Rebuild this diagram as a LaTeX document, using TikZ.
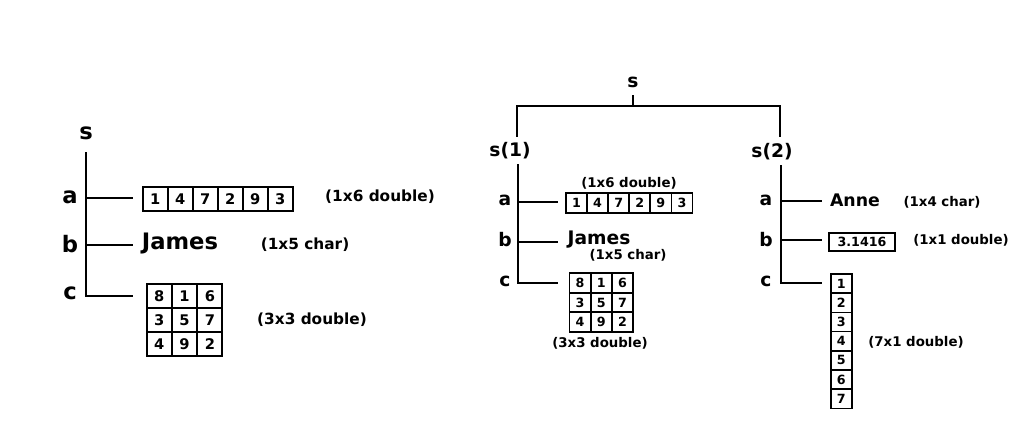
\documentclass[tikz,border=0pt]{standalone}
\usepackage{fontspec}
\setmainfont{DejaVu Sans}
\usepackage{tikz}
\usetikzlibrary{positioning, calc}

\begin{document}
\begin{tikzpicture}[x=0.75pt, y=-0.75pt,
  tree/.style={line width=1.5pt},
  big/.style={font=\fontsize{17}{17}\selectfont\bfseries},
  mid/.style={font=\fontsize{14}{14}\selectfont\bfseries},
  note/.style={font=\fontsize{11.5}{11.5}\selectfont\bfseries},
  snote/.style={font=\fontsize{10}{10}\selectfont\bfseries},
  cellL/.style={draw, line width=1.4pt, minimum width=25*0.75pt, minimum height=24*0.75pt, inner sep=0pt, font=\fontsize{11}{11}\selectfont\bfseries},
  cellM/.style={draw, line width=1.3pt, minimum width=21*0.75pt, minimum height=19.5*0.75pt, inner sep=0pt, font=\fontsize{9.5}{9.5}\selectfont\bfseries}]
  \useasboundingbox (0,0) rectangle (1022,436);

  % Left: s with fields a, b, c
  \node[big] (s0) at (86,133) {s};
  \node[big] (la0) at (70,197) {a};
  \node[big] (lb0) at (70,244) {b};
  \node[big] (lc0) at (70,293) {c};
  \coordinate (s0t) at (86,152);
  \coordinate (a0) at (133,198);
  \coordinate (b0) at (133,245);
  \coordinate (c0) at (133,296);
  \draw[tree] (s0t) |- (a0);
  \draw[tree] (s0t) |- (b0);
  \draw[tree] (s0t) |- (c0);

  \foreach \v [count=\k from 0] in {1,4,7,2,9,3}
    \node[cellL] (r0-\k) at (155.2+25*\k,199) {\v};
  \node[note] (na0) at (380,197) {(1x6 double)};
  \node[big] (james0) at (180,244) {James};
  \node[note] (nb0) at (305,245) {(1x5 char)};
  \foreach \row [count=\i from 0] in {{8,1,6},{3,5,7},{4,9,2}}
    \foreach \v [count=\j from 0] in \row
      \node[cellL] (g0-\i-\j) at (159.3+25.3*\j,296+24*\i) {\v};
  \node[note] (nc0) at (312,320) {(3x3 double)};

  % Right: struct array s(1), s(2)
  \node[mid] (s) at (633,82) {s};
  \node[mid] (s1) at (510,151) {s(1)};
  \node[mid] (s2) at (772,152) {s(2)};
  \coordinate (st) at (633,95);
  \coordinate (bar) at (633,106);
  \coordinate (s1t) at (517,137);
  \coordinate (s2t) at (780,137);
  \draw[tree] (st) -- (bar) -| (s1t);
  \draw[tree] (bar) -| (s2t);

  % s(1)
  \node[mid] (la1) at (505,200) {a};
  \node[mid] (lb1) at (505,240) {b};
  \node[mid] (lc1) at (505,281) {c};
  \coordinate (s1s) at (518,164);
  \coordinate (a1) at (558,202);
  \coordinate (b1) at (558,242);
  \coordinate (c1) at (558,283);
  \draw[tree] (s1s) |- (a1);
  \draw[tree] (s1s) |- (b1);
  \draw[tree] (s1s) |- (c1);
  \node[snote] (na1) at (629,183) {(1x6 double)};
  \foreach \v [count=\k from 0] in {1,4,7,2,9,3}
    \node[cellM] (r1-\k) at (576.5+21.1*\k,203) {\v};
  \node[mid] (james1) at (599,240) {James};
  \node[snote] (nb1) at (628,255) {(1x5 char)};
  \foreach \row [count=\i from 0] in {{8,1,6},{3,5,7},{4,9,2}}
    \foreach \v [count=\j from 0] in \row
      \node[cellM] (g1-\i-\j) at (580+21.3*\j,283+19.5*\i) {\v};
  \node[snote] (nc1) at (600,343) {(3x3 double)};

  % s(2)
  \node[mid] (la2) at (766,200) {a};
  \node[mid] (lb2) at (766,240) {b};
  \node[mid] (lc2) at (766,281) {c};
  \coordinate (s2s) at (781,165);
  \coordinate (a2) at (822,201);
  \coordinate (b2) at (822,240);
  \coordinate (c2) at (822,283);
  \draw[tree] (s2s) |- (a2);
  \draw[tree] (s2s) |- (b2);
  \draw[tree] (s2s) |- (c2);
  \node[font=\fontsize{13}{13}\selectfont\bfseries] (anne) at (855,200) {Anne};
  \node[snote] (na2) at (942,202) {(1x4 char)};
  \node[cellM, minimum width=66*0.75pt, minimum height=17.5*0.75pt] (pi2) at (862,242) {3.1416};
  \node[snote] (nb2) at (961,240) {(1x1 double)};
  \foreach \v [count=\k from 0] in {1,...,7}
    \node[cellM, minimum height=19.2*0.75pt] (v2-\k) at (841.2,283.6+19.2*\k) {\v};
  \node[snote] (nc2) at (916,342) {(7x1 double)};
\end{tikzpicture}
\end{document}
